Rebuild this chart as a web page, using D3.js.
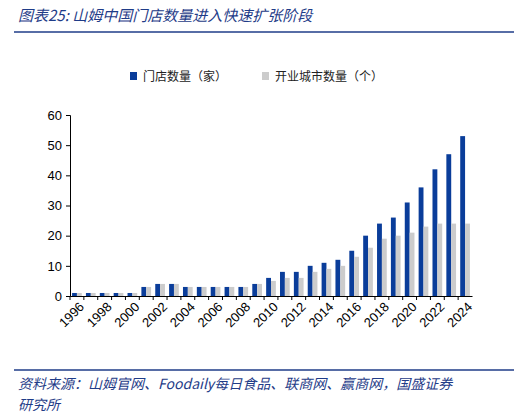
<!DOCTYPE html>
<html><head><meta charset="utf-8">
<script src="https://cdn.jsdelivr.net/npm/d3@7"></script>
<style>body{margin:0;background:#fff;font-family:"Noto Sans CJK SC","Noto Sans",sans-serif;}</style>
</head><body>
<script>
var w = 526, h = 418;
var stores = [1,1,1,1,1,3,4,4,3,3,3,3,3,4,6,8,8,10,11,12,15,20,24,26,31,36,42,47,53];
var cities = [1,1,1,1,1,3,4,4,3,3,3,3,3,4,5,6,6,8,9,10,13,16,19,20,21,23,24,24,24];
var years = d3.range(1996, 1996 + stores.length).map(String);
var yTicks = [0,10,20,30,40,50,60];

var svg = d3.select("body").append("svg").attr("width", w).attr("height", h);

svg.append("text").attr("x", 18).attr("y", 21)
  .attr("font-size", 15).attr("font-style", "italic").attr("fill", "#1f3c88")
  .text("图表25:  山姆中国门店数量进入快速扩张阶段");
svg.append("line").attr("x1", 14).attr("x2", 514).attr("y1", 32).attr("y2", 32)
  .attr("stroke", "#1f3c88").attr("stroke-width", 1.5);

var x = d3.scaleBand().domain(years).range([70, 472]).paddingInner(0.3).paddingOuter(0.15);
var y = d3.scaleLinear().domain([0, 60]).range([296, 115]);
var sub = d3.scaleBand().domain(["s", "c"]).range([0, x.bandwidth()]);

var g = svg.append("g");
g.selectAll(".s").data(stores).enter().append("rect")
  .attr("x", (d, i) => x(years[i]) + sub("s")).attr("width", sub.bandwidth())
  .attr("y", d => y(d)).attr("height", d => y(0) - y(d)).attr("fill", "#0a3d9a");
g.selectAll(".c").data(cities).enter().append("rect")
  .attr("x", (d, i) => x(years[i]) + sub("c")).attr("width", sub.bandwidth())
  .attr("y", d => y(d)).attr("height", d => y(0) - y(d)).attr("fill", "#cccccc");

var ya = svg.append("g").attr("transform", "translate(70,0)")
  .call(d3.axisLeft(y).tickValues(yTicks).tickSize(4).tickPadding(4));
ya.selectAll("text").attr("font-size", 13).attr("font-family", "Liberation Sans, Arial");

var xa = svg.append("g").attr("transform", "translate(0,296)")
  .call(d3.axisBottom(x).tickValues(years.filter((d, i) => i % 2 == 0)).tickSize(0).tickPadding(6));
xa.selectAll("text").attr("font-size", 13).attr("font-family", "Liberation Sans, Arial")
  .attr("transform", "rotate(-45)").attr("text-anchor", "end").attr("dx", "-0.2em").attr("dy", "0.6em");
// tick marks between bands
svg.append("g").selectAll("line").data(years).enter().append("line")
  .attr("x1", d => x(d) - x.step() * x.paddingInner() / 2).attr("x2", d => x(d) - x.step() * x.paddingInner() / 2)
  .attr("y1", 296).attr("y2", 300).attr("stroke", "#000");
svg.selectAll(".domain").attr("stroke", "#000");

var lg = svg.append("g").attr("font-size", 12).attr("fill", "#222");
lg.append("rect").attr("x", 130).attr("y", 72).attr("width", 7).attr("height", 8).attr("fill", "#0a3d9a");
lg.append("text").attr("x", 143).attr("y", 81).text("门店数量（家）");
lg.append("rect").attr("x", 262).attr("y", 72).attr("width", 7).attr("height", 8).attr("fill", "#cccccc");
lg.append("text").attr("x", 275).attr("y", 81).text("开业城市数量（个）");

svg.append("line").attr("x1", 14).attr("x2", 514).attr("y1", 370).attr("y2", 370)
  .attr("stroke", "#1f3c88").attr("stroke-width", 1.5);
svg.append("text").attr("x", 18).attr("y", 389).attr("font-size", 14).attr("font-style", "italic").attr("fill", "#1f3c88")
  .text("资料来源：山姆官网、Foodaily每日食品、联商网、赢商网，国盛证券");
svg.append("text").attr("x", 18).attr("y", 410).attr("font-size", 14).attr("font-style", "italic").attr("fill", "#1f3c88")
  .text("研究所");
</script>
</body></html>
